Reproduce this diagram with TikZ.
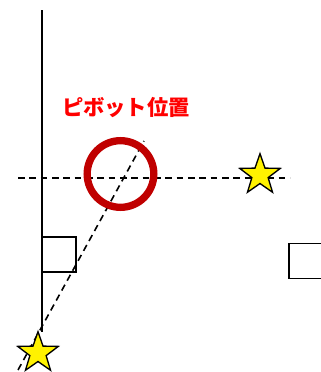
\documentclass[tikz,border=0pt]{standalone}
\usepackage{fontspec}
\newfontfamily\cjk{Noto Sans CJK JP}
\usetikzlibrary{shapes.geometric}
\begin{document}
\begin{tikzpicture}[x=0.75pt,y=-0.75pt,
  line/.style={line width=1.3pt,black},
  dline/.style={line width=1.2pt,black,dash pattern=on 5pt off 3.5pt},
  starnode/.style={star,star points=5,star point ratio=2.5,draw=black,fill=yellow,line width=1pt,minimum size=32pt,inner sep=0pt},
  boxnode/.style={draw=black,line width=1.2pt,minimum width=25.5pt,minimum height=26pt,inner sep=0pt},
  pivot/.style={circle,draw={rgb,255:red,192;green,0;blue,0},line width=5.5pt,minimum size=50pt,inner sep=0pt},
  lbl/.style={text={rgb,255:red,255;green,0;blue,0},font=\cjk\bfseries\fontsize{16pt}{16pt}\selectfont}]
\useasboundingbox (0,0) rectangle (321,372);
\coordinate (vtop) at (42,10);
\coordinate (vbot) at (42,332);
\coordinate (hl) at (18,178);
\coordinate (hr) at (290,178);
\coordinate (dl) at (18,370);
\coordinate (dr) at (144,141);
\draw[line] (vtop) -- (vbot);
\node[boxnode] (sq1) at (59,254.5) {};
\node[boxnode] (sq2) at (306,261) {};
\draw[dline] (hl) -- (hr);
\draw[dline] (dl) -- (dr);
\node[pivot] (piv) at (120.5,174) {};
\node[starnode] (s1) at (38,353) {};
\node[starnode] (s2) at (260,175) {};
\node[lbl] (t) at (126,108) {ピボット位置};
\end{tikzpicture}
\end{document}
